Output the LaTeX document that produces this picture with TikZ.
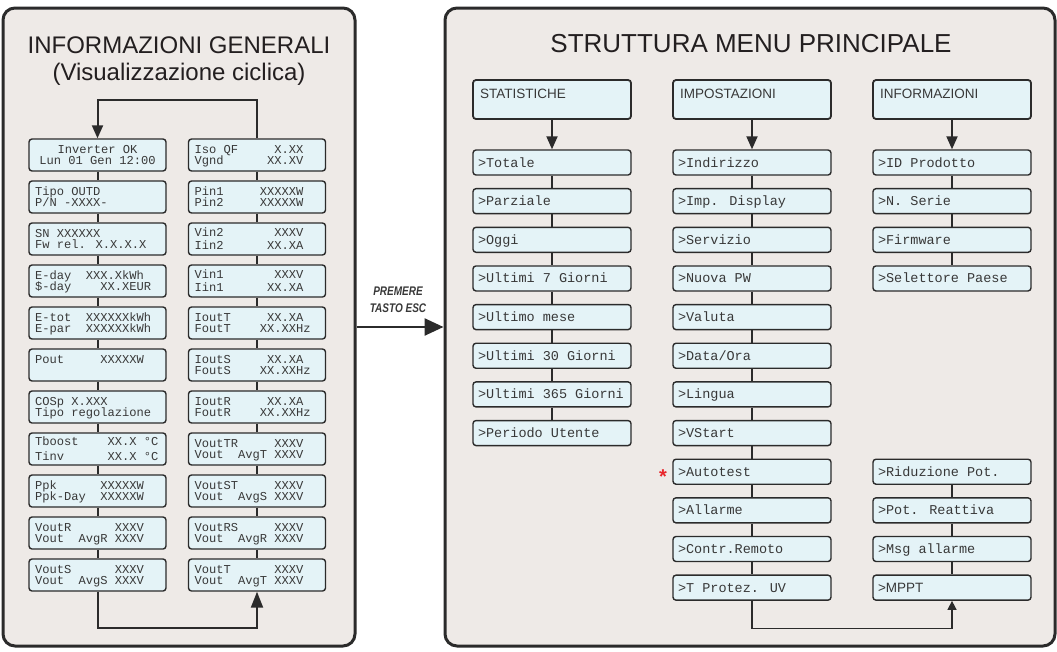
\documentclass[tikz,border=0pt]{standalone}
\usepackage{fontspec}
\setmainfont{Liberation Sans}
\newfontfamily\lcdfont{Liberation Mono}
\newfontfamily\condfont[FakeStretch=0.8]{Liberation Sans}
\usetikzlibrary{arrows.meta}
\definecolor{panelfill}{HTML}{EEEAE7}
\definecolor{boxfill}{HTML}{E4F3F7}
\definecolor{edgec}{HTML}{2B2B2B}
\definecolor{txtc}{HTML}{383838}
\definecolor{titlec}{HTML}{231F20}
\definecolor{starc}{HTML}{E8262B}
\begin{document}
\begin{tikzpicture}[x=1pt,y=-1pt,
  panel/.style={draw=edgec,line width=3pt,fill=panelfill,rounded corners=12pt,inner sep=0pt},
  lbox/.style={draw=edgec,line width=1.4pt,fill=boxfill,rounded corners=3pt,
    minimum width=137pt,minimum height=32pt,inner xsep=6pt,inner ysep=0pt,
    text width=125pt,align=flush left,text=txtc,text height=8pt,text depth=#1pt,
    font={\lcdfont\fontsize{12.1pt}{#1pt}\selectfont\lineskiplimit=-20pt}},
  lbox/.default=10.5,
  rbox/.style={draw=edgec,line width=1.4pt,fill=boxfill,rounded corners=3pt,
    minimum width=158pt,minimum height=25pt,inner xsep=5pt,inner ysep=0pt,
    text width=148pt,align=flush left,text=txtc,text height=9pt,text depth=0pt,
    font={\lcdfont\fontsize{13.5pt}{16pt}\selectfont}},
  hbox/.style={draw=edgec,line width=1.8pt,fill=boxfill,rounded corners=3pt,
    minimum width=158pt,minimum height=39pt,inner xsep=7pt,inner ysep=0pt,
    text width=144pt,align=flush left,text=txtc,text height=9.5pt,text depth=11pt,
    font={\fontsize{13.5pt}{15pt}\selectfont}},
  conn/.style={draw=edgec,line width=2pt},
  thinconn/.style={draw=edgec,line width=1.4pt},
  title/.style={text=titlec,anchor=base,inner sep=0pt},
  esctext/.style={title,text=txtc,font=\condfont\bfseries\itshape\fontsize{12.5pt}{15pt}\selectfont},
]
\fill[white] (0,0) rectangle (1057,651);
\useasboundingbox (0,0) rectangle (1057,651);

% panels
\node[panel,minimum width=352pt,minimum height=638pt] (lp) at (179,327) {};
\node[panel,minimum width=610pt,minimum height=638pt] (rp) at (750,327) {};

% titles
\node[title,font=\fontsize{24pt}{28pt}\selectfont] (t1) at (179,53) {INFORMAZIONI GENERALI};
\node[title,font=\fontsize{24pt}{28pt}\selectfont] (t2) at (179,80) {(Visualizzazione ciclica)};
\node[title,font=\fontsize{26pt}{30pt}\selectfont] (t3) at (751,52) {STRUTTURA MENU PRINCIPALE};

% left panel, left column
\node[lbox,align=flush center] (L1) at (97.5,155) {Inverter OK\\Lun 01 Gen 12:00};
\node[lbox] (L2) at (97.5,197) {Tipo OUTD\\P/N -XXXX-};
\node[lbox] (L3) at (97.5,239) {SN XXXXXX\\Fw rel. X.X.X.X};
\node[lbox] (L4) at (97.5,281) {E-day~~XXX.XkWh\\\$-day~~~~XX.XEUR};
\node[lbox] (L5) at (97.5,323) {E-tot~~XXXXXXkWh\\E-par~~XXXXXXkWh};
\node[lbox] (L6) at (97.5,365) {Pout~~~~~XXXXXW};
\node[lbox] (L7) at (97.5,407) {COSp X.XXX\\Tipo regolazione};
\node[lbox=15] (L8) at (97.5,449) {Tboost~~~~XX.X °C\\Tinv~~~~~~XX.X °C};
\node[lbox] (L9) at (97.5,491) {Ppk~~~~~~XXXXXW\\Ppk-Day~~XXXXXW};
\node[lbox] (L10) at (97.5,533) {VoutR~~~~~~XXXV\\Vout~~AvgR XXXV};
\node[lbox] (L11) at (97.5,575) {VoutS~~~~~~XXXV\\Vout~~AvgS XXXV};

% left panel, right column
\node[lbox] (R1) at (257,155) {Iso QF~~~~~X.XX\\Vgnd~~~~~~XX.XV};
\node[lbox] (R2) at (257,197) {Pin1~~~~~XXXXXW\\Pin2~~~~~XXXXXW};
\node[lbox=12.3] (R3) at (257,239) {Vin2~~~~~~~XXXV\\Iin2~~~~~~XX.XA};
\node[lbox=12.3] (R4) at (257,281) {Vin1~~~~~~~XXXV\\Iin1~~~~~~XX.XA};
\node[lbox] (R5) at (257,323) {IoutT~~~~~XX.XA\\FoutT~~~~XX.XXHz};
\node[lbox] (R6) at (257,365) {IoutS~~~~~XX.XA\\FoutS~~~~XX.XXHz};
\node[lbox] (R7) at (257,407) {IoutR~~~~~XX.XA\\FoutR~~~~XX.XXHz};
\node[lbox=11.7] (R8) at (257,449) {VoutTR~~~~~XXXV\\Vout~~AvgT XXXV};
\node[lbox=11.7] (R9) at (257,491) {VoutST~~~~~XXXV\\Vout~~AvgS XXXV};
\node[lbox=11.7] (R10) at (257,533) {VoutRS~~~~~XXXV\\Vout~~AvgR XXXV};
\node[lbox=10.7] (R11) at (257,575) {VoutT~~~~~~XXXV\\Vout~~AvgT XXXV};

\foreach \i in {1,...,10}{
  \pgfmathtruncatemacro\j{\i+1}
  \draw[conn] (L\i.south) -- (L\j.north);
  \draw[conn] (R\i.south) -- (R\j.north);
}
\draw[conn,-{Triangle[length=13pt,width=11pt]}] (R1.north) -- ++(0,-38) -| (L1.north);
\draw[conn,-{Triangle[length=16pt,width=12pt]}] (L11.south) -- ++(0,36) -| (R11.south);

% ESC arrow
\coordinate (esc) at (400,327);
\draw[draw=edgec,line width=2.5pt,-{Triangle[length=19pt,width=17pt]}] (lp.east |- esc) -- (rp.west |- esc);
\node[esctext] (e1) at (398,295) {PREMERE};
\node[esctext] (e2) at (398,312.7) {TASTO ESC};

% right panel headers
\node[hbox] (HA) at (552,99.5) {STATISTICHE};
\node[hbox] (HB) at (752,99.5) {IMPOSTAZIONI};
\node[hbox] (HC) at (952,99.5) {INFORMAZIONI};

% column 1
\node[rbox] (A0) at (552,162.5) {>Totale};
\node[rbox] (A1) at (552,201.15) {>Parziale};
\node[rbox] (A2) at (552,239.8) {>Oggi};
\node[rbox] (A3) at (552,278.45) {>Ultimi 7 Giorni};
\node[rbox] (A4) at (552,317.1) {>Ultimo mese};
\node[rbox] (A5) at (552,355.75) {>Ultimi 30 Giorni};
\node[rbox] (A6) at (552,394.4) {>Ultimi 365 Giorni};
\node[rbox] (A7) at (552,433.05) {>Periodo Utente};

% column 2
\node[rbox] (B0) at (752,162.5) {>Indirizzo};
\node[rbox] (B1) at (752,201.15) {>Imp. Display};
\node[rbox] (B2) at (752,239.8) {>Servizio};
\node[rbox] (B3) at (752,278.45) {>Nuova PW};
\node[rbox] (B4) at (752,317.1) {>Valuta};
\node[rbox] (B5) at (752,355.75) {>Data/Ora};
\node[rbox] (B6) at (752,394.4) {>Lingua};
\node[rbox] (B7) at (752,433.05) {>VStart};
\node[rbox] (B8) at (752,471.7) {>Autotest};
\node[rbox] (B9) at (752,510.35) {>Allarme};
\node[rbox] (B10) at (752,549.0) {>Contr.Remoto};
\node[rbox] (B11) at (752,587.65) {>T Protez. UV};

% column 3
\node[rbox] (C0) at (952,162.5) {>ID Prodotto};
\node[rbox] (C1) at (952,201.15) {>N. Serie};
\node[rbox] (C2) at (952,239.8) {>Firmware};
\node[rbox] (C3) at (952,278.45) {>Selettore Paese};
\node[rbox] (C8) at (952,471.7) {>Riduzione Pot.};
\node[rbox] (C9) at (952,510.35) {>Pot. Reattiva};
\node[rbox] (C10) at (952,549.0) {>Msg allarme};
\node[rbox,font={\fontsize{13.5pt}{16pt}\selectfont}] (C11) at (952,587.65) {>MPPT};

% asterisk
\node[title,text=starc,font=\bfseries\fontsize{20pt}{20pt}\selectfont] (ast) at (663,483) {*};

% header arrows
\foreach \h/\t in {HA/A0,HB/B0,HC/C0}
  \draw[conn,-{Triangle[length=13pt,width=11pt]}] (\h.south) -- (\t.north);

% list connectors
\foreach \a/\b in {A0/A1,A1/A2,A2/A3,A3/A4,A4/A5,A5/A6,A6/A7,
  B0/B1,B1/B2,B2/B3,B3/B4,B4/B5,B5/B6,B6/B7,B7/B8,B8/B9,B9/B10,B10/B11,
  C0/C1,C1/C2,C2/C3,C8/C9,C9/C10,C10/C11}
  \draw[thinconn] (\a.south) -- (\b.north);

\draw[thinconn,-{Triangle[length=9pt,width=9pt]}] (B11.south) -- ++(0,27.5) -| (C11.south);
\end{tikzpicture}
\end{document}
